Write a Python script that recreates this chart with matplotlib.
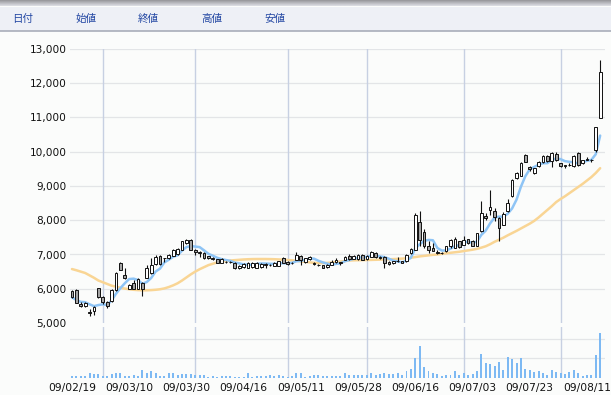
import matplotlib
matplotlib.use("Agg")
import matplotlib.pyplot as plt
import numpy as np
import pandas as pd
from matplotlib.patches import Rectangle

# ---------------- data ----------------
dates = (
    ["09/02/%02d" % d for d in [19, 20, 23, 24, 25, 26, 27]]
    + ["09/03/%02d" % d for d in [2, 3, 4, 5, 6, 9, 10, 11, 12, 13, 16, 17, 18, 19, 23, 24, 25, 26, 27, 30, 31]]
    + ["09/04/%02d" % d for d in [1, 2, 3, 6, 7, 8, 9, 10, 13, 14, 15, 16, 17, 20, 21, 22, 23, 24, 27, 28, 30]]
    + ["09/05/%02d" % d for d in [1, 7, 8, 11, 12, 13, 14, 15, 18, 19, 20, 21, 22, 25, 26, 27, 28, 29]]
    + ["09/06/%02d" % d for d in [1, 2, 3, 4, 5, 8, 9, 10, 11, 12, 15, 16, 17, 18, 19, 22, 23, 24, 25, 26, 29, 30]]
    + ["09/07/%02d" % d for d in [1, 2, 3, 6, 7, 8, 9, 10, 13, 14, 15, 16, 17, 21, 22, 23, 24, 27, 28, 29, 30, 31]]
    + ["09/08/%02d" % d for d in [3, 4, 5, 6, 7, 10, 11, 12, 13, 14]]
)

opens = [5920, 5970, 5560, 5510, 5330, 5360, 6010, 5770, 5600, 5630,
         5960, 6750, 6400, 6000, 6170, 6000, 6170, 6320, 6460, 6710,
         6960, 6890, 6900, 6970, 7010, 7140, 7340, 7420, 7140, 7050,
         7040, 6950, 6900, 6870, 6760, 6790, 6780, 6760, 6620, 6640,
         6620, 6640, 6620, 6640, 6700, 6680, 6660, 6660, 6900, 6790,
         6740, 6850, 6960, 6780, 6870, 6750, 6700, 6680, 6640, 6700,
         6770, 6780, 6850, 6960, 6880, 6860, 6990, 6870, 6940, 7040,
         6940, 6940, 6790, 6760, 6800, 6800, 6800, 7040, 7140, 7960,
         7670, 7240, 7180, 7060, 7040, 7090, 7240, 7200, 7380, 7290,
         7440, 7400, 7260, 7700, 8130, 8300, 8260, 8060, 7870, 8260,
         8700, 9230, 9300, 9910, 9560, 9370, 9570, 9690, 9870, 9720,
         9940, 9660, 9600, 9600, 9580, 9970, 9660, 9770, 9770, 10060,
         10980]
highs = [5950, 5990, 5600, 5600, 5400, 5500, 6030, 5800, 5640, 5980,
         6500, 6790, 6600, 6150, 6250, 6300, 6200, 6700, 6900, 6980,
         6990, 6910, 7010, 7150, 7180, 7400, 7450, 7460, 7160, 7100,
         7060, 6970, 6920, 6880, 6900, 6820, 6810, 6780, 6700, 6750,
         6770, 6780, 6770, 6740, 6740, 6720, 6770, 6820, 6920, 6810,
         6780, 7060, 6990, 6910, 6960, 6770, 6720, 6700, 6720, 6850,
         6900, 6790, 6950, 7000, 6980, 7010, 7020, 6980, 7100, 7060,
         6960, 6960, 6800, 6820, 6920, 6820, 7000, 7180, 8220, 8260,
         7750, 7380, 7330, 7120, 7080, 7260, 7440, 7520, 7400, 7530,
         7460, 7430, 7640, 8550, 8200, 8890, 8350, 8100, 8230, 8620,
         9200, 9400, 9700, 9930, 9580, 9540, 9720, 9900, 9900, 9990,
         9980, 9680, 9620, 9680, 9900, 10000, 9770, 9860, 9800, 10720,
         12680]
lows = [5720, 5570, 5480, 5460, 5200, 5220, 5720, 5560, 5430, 5600,
        5940, 6540, 6280, 5980, 5980, 5980, 5780, 6300, 6440, 6700,
        6700, 6780, 6880, 6950, 6990, 7120, 7320, 7120, 6990, 6940,
        6880, 6880, 6830, 6740, 6740, 6760, 6760, 6580, 6580, 6620,
        6600, 6620, 6600, 6620, 6620, 6650, 6650, 6650, 6740, 6690,
        6720, 6830, 6680, 6760, 6850, 6700, 6650, 6600, 6610, 6680,
        6760, 6700, 6830, 6850, 6860, 6840, 6830, 6850, 6920, 6910,
        6880, 6600, 6700, 6720, 6790, 6740, 6780, 7020, 7120, 7240,
        7200, 7040, 7090, 7020, 7010, 7070, 7200, 7180, 7200, 7280,
        7320, 7240, 7240, 7670, 8020, 8160, 7970, 7380, 7850, 8240,
        8680, 9200, 9280, 9700, 9430, 9340, 9550, 9670, 9700, 9550,
        9740, 9560, 9520, 9580, 9560, 9580, 9640, 9760, 9700, 10000,
        10980]
closes = [5750, 5590, 5510, 5580, 5300, 5480, 5750, 5610, 5500, 5950,
          6470, 6560, 6320, 6120, 6000, 6280, 5990, 6600, 6700, 6940,
          6710, 6900, 6990, 7130, 7160, 7380, 7420, 7140, 7060, 7080,
          6910, 6910, 6860, 6760, 6880, 6780, 6790, 6600, 6660, 6720,
          6740, 6760, 6750, 6720, 6710, 6700, 6750, 6800, 6760, 6710,
          6760, 6990, 6850, 6890, 6940, 6720, 6680, 6620, 6700, 6780,
          6850, 6760, 6930, 6870, 6960, 6990, 6850, 6960, 7080, 6930,
          6900, 6750, 6720, 6800, 6820, 6760, 6990, 7160, 8160, 7430,
          7240, 7140, 7110, 7040, 7050, 7240, 7420, 7460, 7220, 7430,
          7340, 7260, 7620, 8210, 8060, 8400, 8090, 7770, 8190, 8500,
          9180, 9370, 9660, 9715, 9510, 9520, 9700, 9880, 9720, 9960,
          9770, 9590, 9590, 9620, 9880, 9620, 9760, 9800, 9750, 10710,
          12340]
ma25 = [6575, 6540, 6500, 6460, 6390, 6320, 6240, 6190, 6140, 6090,
        6060, 6030, 6005, 5985, 5970, 5960, 5955, 5955, 5960, 5970,
        5985, 6010, 6050, 6100, 6160, 6240, 6330, 6420, 6500, 6570,
        6630, 6690, 6730, 6770, 6795, 6810, 6825, 6835, 6845, 6855,
        6862, 6866, 6868, 6868, 6868, 6866, 6862, 6856, 6848, 6840,
        6830, 6815, 6800, 6785, 6770, 6755, 6750, 6750, 6755, 6765,
        6780, 6795, 6810, 6825, 6830, 6833, 6836, 6838, 6842, 6846,
        6850, 6855, 6860, 6866, 6872, 6880, 6890, 6905, 6925, 6945,
        6960, 6975, 6990, 7000, 7020, 7035, 7050, 7065, 7080, 7100,
        7120, 7140, 7165, 7200, 7240, 7300, 7370, 7430, 7490, 7560,
        7625, 7690, 7760, 7830, 7900, 7980, 8080, 8190, 8300, 8410,
        8530, 8620, 8700, 8790, 8880, 8970, 9060, 9160, 9260, 9380,
        9520]
volume = [90, 90, 90, 90, 270, 180, 180, 90, 90, 180,
          270, 220, 90, 90, 130, 90, 400, 220, 330, 220,
          90, 90, 220, 250, 150, 180, 180, 180, 130, 130,
          130, 50, 90, 50, 90, 90, 90, 50, 50, 50,
          220, 50, 90, 90, 90, 130, 90, 130, 90, 50,
          90, 270, 270, 50, 90, 130, 150, 90, 90, 90,
          90, 90, 270, 130, 130, 130, 130, 130, 240, 150,
          180, 270, 180, 180, 240, 150, 360, 450, 1050, 1640,
          580, 360, 240, 180, 90, 130, 150, 360, 150, 270,
          150, 180, 360, 1220, 780, 730, 600, 820, 420, 1090,
          960, 780, 1050, 450, 400, 310, 330, 220, 130, 420,
          310, 240, 180, 310, 400, 250, 90, 130, 150, 1180,
          2310]

price_ticks = [5000, 6000, 7000, 8000, 9000, 10000, 11000, 12000, 13000]
header_labels = ["日付", "始値", "終値", "高値", "安値"]

# ---------------- figure ----------------
W, H = 611, 395
fig = plt.figure(figsize=(W / 100, H / 100), dpi=100)
fig.patch.set_facecolor("#fbfcfb")


def fy(py):
    return 1 - py / H


# header band
hdr = fig.add_axes([0, fy(31.5), 1, 31.5 / H])
hdr.set_xlim(0, W)
hdr.set_ylim(31.5, 0)
hdr.axis("off")
grad = np.linspace(0, 1, 7)[:, None] * np.ones((1, 2))
hdr.imshow(grad, extent=[0, W, 6.5, 0], cmap=matplotlib.colors.LinearSegmentedColormap.from_list(
    "g", ["#8e8e92", "#d9dae0"]), aspect="auto", interpolation="bilinear")
hdr.add_patch(Rectangle((0, 6.5), W, 24.5, facecolor="#eef0f6", edgecolor="none"))
hdr.plot([0, W], [31, 31], color="#a9adb9", lw=1.2)
for lab, xp in zip(header_labels, [12, 75, 138, 201, 264]):
    hdr.text(xp, 18.5, lab, fontsize=7.6, color="#2347a3", va="center", ha="left",
             family=["Noto Sans CJK JP", "DejaVu Sans"])

n = len(closes)
x = np.arange(n)
x_lo, x_hi = -0.45, 121.1
month_starts = [i for i in range(1, n) if dates[i][3:5] != dates[i - 1][3:5]]

# price panel
ax = fig.add_axes([70 / W, fy(323), 535 / W, (323 - 49) / H])
ax.set_facecolor("none")
ax.set_xlim(x_lo, x_hi)
ax.set_ylim(5000, 13000)
for t in price_ticks[1:]:
    ax.axhline(t, color="#e3e5e7", lw=0.9, zorder=0)
for m in month_starts:
    ax.axvline(m, color="#c7d0e2", lw=1.0, zorder=0)

ma5 = pd.Series(closes).rolling(5, min_periods=1).mean()
ax.plot(x, ma25, color="#f9d594", lw=1.8, zorder=1, solid_capstyle="round")
ax.plot(x, ma5, color="#8ec4f5", lw=1.8, zorder=1, solid_capstyle="round")

o = np.array(opens)
c = np.array(closes)
ax.vlines(x, lows, highs, color="#111111", lw=0.8, zorder=2)
up = c >= o
body_lo = np.minimum(o, c)
body_h = np.maximum(np.abs(c - o), 12)
ax.bar(x, body_h, bottom=body_lo, width=0.62,
       color=np.where(up, "#ffffff", "#a4a4a4"), edgecolor="#111111",
       linewidth=0.7, zorder=3)

ax.set_yticks(price_ticks)
ax.set_yticklabels(["{:,}".format(t) for t in price_ticks])
ax.tick_params(axis="y", length=0, pad=2.5, labelsize=7.6, labelcolor="#111111")
ax.set_xticks([])
for s in ax.spines.values():
    s.set_visible(False)

# volume panel
axv = fig.add_axes([70 / W, fy(377.7), 535 / W, (377.7 - 327) / H])
axv.set_facecolor("none")
axv.set_xlim(x_lo, x_hi)
axv.set_ylim(0, 2640)
for t in [1000, 2000]:
    axv.axhline(t, color="#e3e5e7", lw=0.9, zorder=0)
for m in month_starts:
    axv.axvline(m, color="#c7d0e2", lw=1.0, zorder=0)
axv.bar(x, volume, width=0.45, color="#7db9f3", zorder=2)
axv.set_yticks([])
tick_idx = list(range(0, n, 13))
axv.set_xticks(tick_idx)
axv.set_xticklabels([dates[i] for i in tick_idx])
axv.tick_params(axis="x", length=0, pad=4, labelsize=7.7, labelcolor="#111111")
for s in axv.spines.values():
    s.set_visible(False)

fig.savefig("out.png", dpi=100, facecolor=fig.get_facecolor())
